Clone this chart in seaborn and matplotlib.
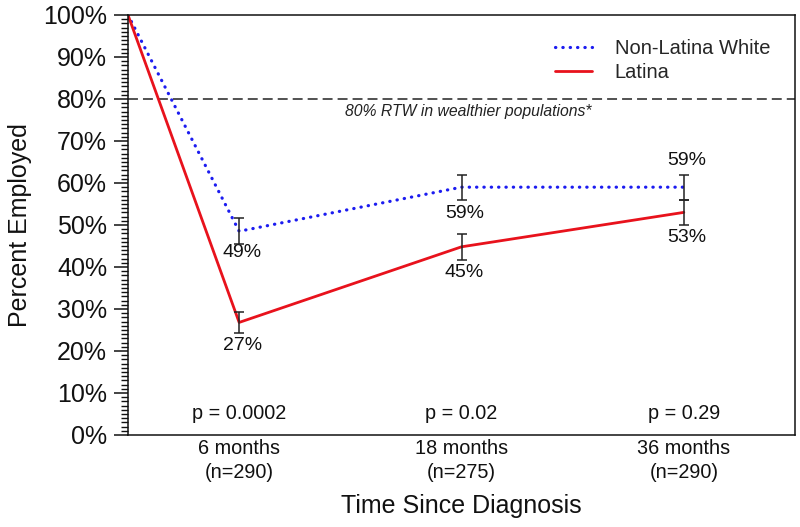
import matplotlib
matplotlib.use("Agg")
import matplotlib.pyplot as plt
import seaborn as sns
import pandas as pd
import numpy as np
from matplotlib.ticker import MultipleLocator, FuncFormatter

# ---- data ----
time_points = ["baseline", "6 months", "18 months", "36 months"]
tick_labels = ["6 months\n(n=290)", "18 months\n(n=275)", "36 months\n(n=290)"]
p_values = ["p = 0.0002", "p = 0.02", "p = 0.29"]
nlw_values = [100, 48.5, 59, 59]
latina_values = [100, 26.8, 44.8, 53.0]
nlw_err = [0, 3.1, 3.0, 3.0]
latina_err = [0, 2.5, 3.1, 2.9]
nlw_labels = ["", "49%", "59%", "59%"]
latina_labels = ["", "27%", "45%", "53%"]
reference_level = 80
reference_text = "80% RTW in wealthier populations*"

sns.set_theme(style="ticks")
plt.rcParams["font.family"] = ["Liberation Sans", "DejaVu Sans"]

# positions: baseline at 0, categories centred at 0.5, 1.5, 2.5
xpos = [0] + [i + 0.5 for i in range(len(time_points) - 1)]

df = pd.DataFrame({
    "x": xpos * 2,
    "y": nlw_values + latina_values,
    "group": ["Non-Latina White"] * 4 + ["Latina"] * 4,
})

blue = "#1c1cf0"
red = "#e8121c"

fig = plt.figure(figsize=(8, 5.27), dpi=100)
ax = fig.add_axes([0.16, 0.1746, 0.83375, 0.797])

sns.lineplot(data=df[df.group == "Non-Latina White"], x="x", y="y", ax=ax,
             color=blue, lw=2.3, linestyle=(0, (0.1, 2.2)), dash_capstyle="round",
             label="Non-Latina White")
sns.lineplot(data=df[df.group == "Latina"], x="x", y="y", ax=ax,
             color=red, lw=2.0, label="Latina")

# error bars
ax.errorbar(xpos[1:], nlw_values[1:], yerr=nlw_err[1:], fmt="none",
            ecolor="#222222", elinewidth=1.1, capsize=3.5, capthick=1.1, zorder=5)
ax.errorbar(xpos[1:], latina_values[1:], yerr=latina_err[1:], fmt="none",
            ecolor="#222222", elinewidth=1.1, capsize=3.5, capthick=1.1, zorder=5)

# value labels
nlw_offsets = [0, -21, -26, 27]
lat_offsets = [0, -23, -26, -25]
for x, v, lab, off in zip(xpos, nlw_values, nlw_labels, nlw_offsets):
    if lab:
        ax.annotate(lab, (x, v), xytext=(3, off), textcoords="offset pixels",
                    ha="center", va="center", fontsize=14, color="#111111")
for x, v, lab, off in zip(xpos, latina_values, latina_labels, lat_offsets):
    if lab:
        ax.annotate(lab, (x, v), xytext=(3, off), textcoords="offset pixels",
                    ha="center", va="center", fontsize=14, color="#111111")

# reference line
ax.axhline(reference_level, color="#222222", lw=1.1, linestyle=(0, (6.5, 3.3)), zorder=1)
ax.text(1.53, reference_level - 3, reference_text, style="italic",
        ha="center", va="center", fontsize=11.3, color="#222222")

# p-values
for x, p in zip(xpos[1:], p_values):
    ax.text(x, 5.2, p, ha="center", va="center", fontsize=14.3, color="#111111")

ax.set_xlim(0, 3)
ax.set_ylim(0, 100)
ax.set_xticks(xpos[1:])
ax.set_xticklabels(tick_labels, fontsize=14.3, color="#111111", linespacing=1.3)
ax.tick_params(axis="x", length=0, pad=3)
ax.yaxis.set_major_locator(MultipleLocator(10))
ax.yaxis.set_minor_locator(MultipleLocator(1))
ax.yaxis.set_major_formatter(FuncFormatter(lambda v, _: f"{int(v)}%"))
ax.tick_params(axis="y", which="major", length=10, width=1.1, labelsize=18,
               pad=5, colors="#111111")
ax.tick_params(axis="y", which="minor", length=5, width=1.0, color="#111111")

for s in ax.spines.values():
    s.set_color("#111111")
    s.set_linewidth(1.1)

ax.set_xlabel("Time Since Diagnosis", fontsize=18, color="#111111", labelpad=9)
ax.set_ylabel("Percent Employed", fontsize=18, color="#111111", labelpad=8)

leg = ax.legend(loc="upper right", bbox_to_anchor=(0.99, 0.985), frameon=False,
                fontsize=14.5, handlelength=1.8, handletextpad=1.15, labelspacing=0.25)

fig.savefig("out.png", dpi=100)
